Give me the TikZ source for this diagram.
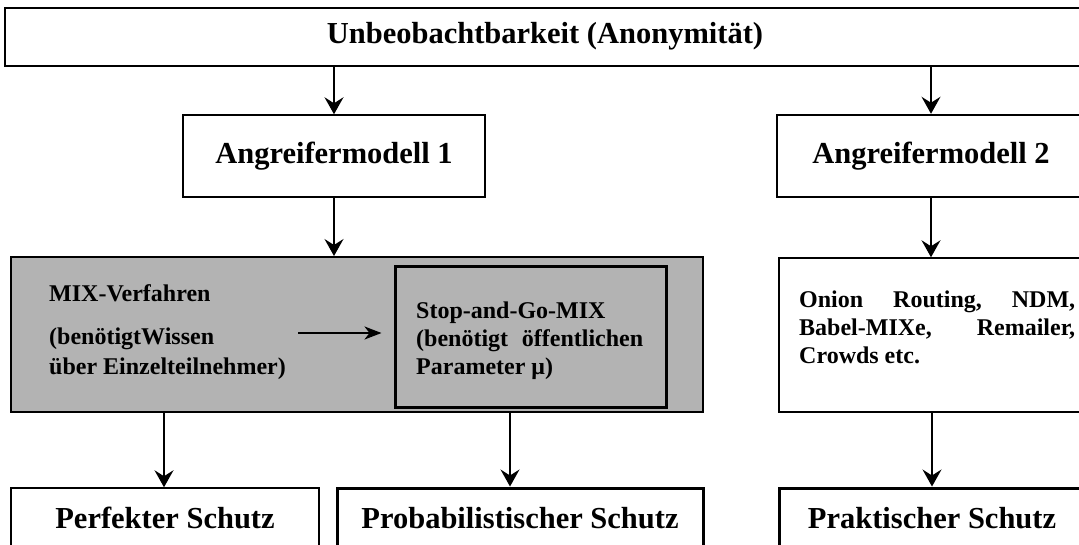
\documentclass[tikz,border=0pt]{standalone}
\usepackage{fontspec}
\setmainfont{Liberation Serif}
\usetikzlibrary{arrows.meta}
\definecolor{mixgray}{RGB}{179,179,179}
\newcommand{\bigtxt}{\fontsize{30.5}{36}\selectfont\bfseries}
\newcommand{\smalltxt}{\fontsize{24}{28.5}\selectfont\bfseries}
\tikzset{
  box/.style={draw, rectangle, inner sep=0pt, font=\bigtxt, fill=white},
  arr/.style={line width=1.3pt, -{Stealth[length=17pt,width=19pt,inset=6pt]}},
  harr/.style={line width=2pt, -{Stealth[length=17pt,width=13pt,inset=5pt]}},
  txt/.style={inner sep=0pt, font=\smalltxt, anchor=base west}
}
\begin{document}
\begin{tikzpicture}[x=1pt,y=-1pt]
\useasboundingbox (0,0) rectangle (1079,544);
\begin{scope}
\clip (0,0) rectangle (1079,544);
% top
\node[box, line width=2pt, minimum width=1080pt, minimum height=58pt] (top) at (545,36.5) {Unbeobachtbarkeit (Anonymität)};
% attacker models
\node[box, line width=1.5pt, minimum width=302pt, minimum height=82pt] (a1) at (334,156) {Angreifermodell 1};
\node[box, line width=2.5pt, minimum width=308pt, minimum height=82pt] (a2) at (931,156) {Angreifermodell 2};
% gray mix box
\node[draw, rectangle, line width=2pt, fill=mixgray, minimum width=692pt, minimum height=155pt, inner sep=0pt] (gray) at (357,334.5) {};
\node[draw, rectangle, line width=3pt, fill=mixgray, minimum width=271pt, minimum height=141pt, inner sep=0pt] (inner) at (530.5,336.5) {};
\node[txt] (mix1) at (49,301) {MIX-Verfahren};
\node[txt] (mix2) at (49,344) {(benötigtWissen};
\node[txt] (mix3) at (49,374) {über Einzelteilnehmer)};
\node[txt] (sg1) at (416,318) {Stop-and-Go-MIX};
\node[txt] (sg2) at (416,346) {\makebox[227pt][s]{(benötigt\hfill öffentlichen}};
\node[txt] (sg3) at (416,374) {Parameter μ)};
% onion box
\node[box, line width=1.5pt, minimum width=306pt, minimum height=154pt] (onion) at (932,335) {};
\node[txt] (on1) at (799,307) {\makebox[276pt][s]{Onion\hfill Routing,\hfill NDM,}};
\node[txt] (on2) at (799,335) {\makebox[276pt][s]{Babel-MIXe,\hfill Remailer,}};
\node[txt] (on3) at (799,363) {Crowds etc.};
% bottom boxes
\node[box, line width=1.5pt, minimum width=308pt, minimum height=70pt] (perf) at (165,523) {};
\node[box, line width=3pt, minimum width=366pt, minimum height=70pt] (prob) at (520,523) {};
\node[box, line width=3pt, minimum width=306pt, minimum height=70pt] (prak) at (932,523) {};
\node[inner sep=0pt, font=\bigtxt, anchor=base] (perft) at (165,528) {Perfekter Schutz};
\node[inner sep=0pt, font=\bigtxt, anchor=base] (probt) at (520,528) {Probabilistischer Schutz};
\node[inner sep=0pt, font=\bigtxt, anchor=base] (prakt) at (932,528) {Praktischer Schutz};
% arrows
\draw[arr] (a1.north |- top.south) -- (a1.north);
\draw[arr] (a2.north |- top.south) -- (a2.north);
\draw[arr] (a1.south) -- (a1.south |- gray.north);
\draw[arr] (a2.south) -- (a2.south |- onion.north);
\coordinate (g1) at (164,412);
\coordinate (g2) at (510,412);
\draw[arr] (g1) -- (g1 |- perf.north);
\draw[arr] (g2) -- (g2 |- prob.north);
\draw[arr] (onion.south) -- (onion.south |- prak.north);
\coordinate (ms) at (298,333);
\draw[harr, shorten >=12pt] (ms) -- (ms -| inner.west);
\end{scope}
\end{tikzpicture}
\end{document}
